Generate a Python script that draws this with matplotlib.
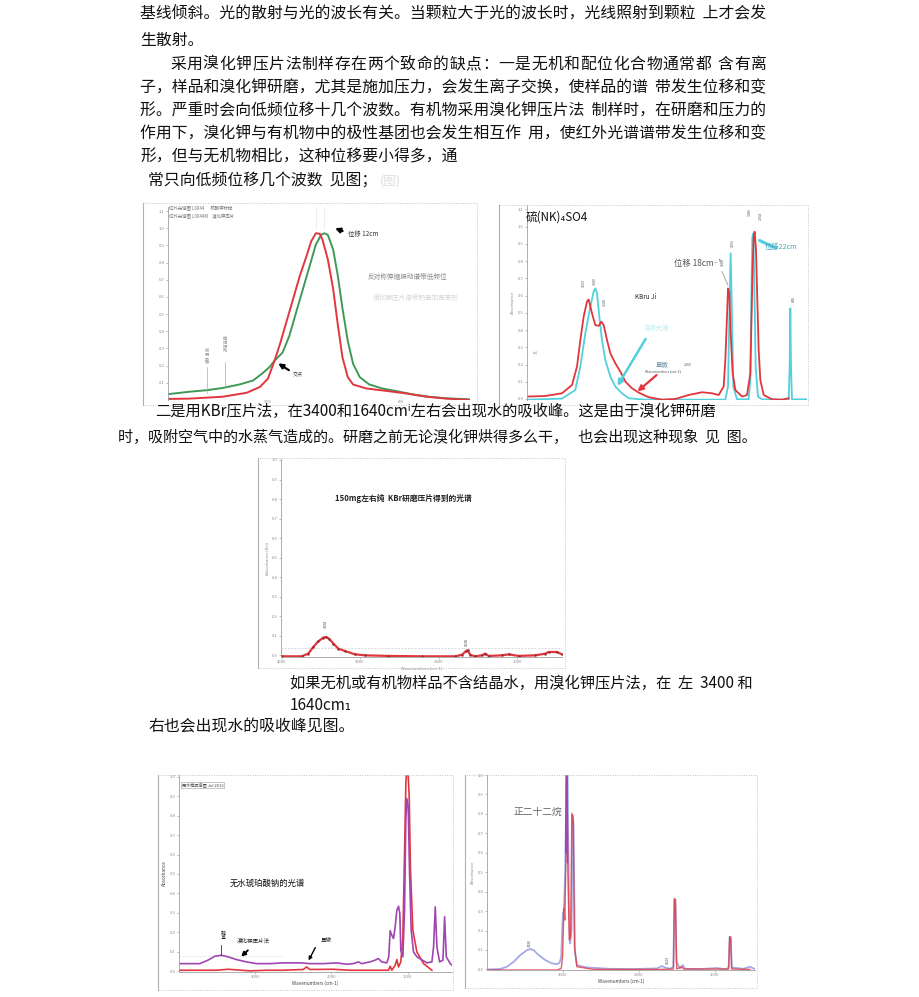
import matplotlib
matplotlib.use("Agg")
import matplotlib.pyplot as plt
from matplotlib.patches import Rectangle
from matplotlib.lines import Line2D

plt.rcParams['font.family'] = ['Noto Sans CJK SC', 'DejaVu Sans']

W, H = 920, 997

# ---- page text ----
para_lines = [
    "基线倾斜。光的散射与光的波长有关。当颗粒大于光的波长时，光线照射到颗粒  上才会发",
    "生散射。",
    "子，样品和溴化钾研磨，尤其是施加压力，会发生离子交换，使样品的谱  带发生位移和变",
    "形。严重时会向低频位移十几个波数。有机物采用溴化钾压片法  制样时，在研磨和压力的",
    "作用下，溴化钾与有机物中的极性基团也会发生相互作  用，使红外光谱谱带发生位移和变",
    "形，但与无机物相比，这种位移要小得多，通",
    "常只向低频位移几个波数  见图；",
    "二是用KBr压片法，在3400和1640cmⁱ左右会出现水的吸收峰。这是由于溴化钾研磨",
    "时，吸附空气中的水蒸气造成的。研磨之前无论溴化钾烘得多么干，   也会出现这种现象  见  图。",
    "如果无机或有机物样品不含结晶水，用溴化钾压片法，在  左  3400 和",
    "1640cm₁",
    "右也会出现水的吸收峰见图。",
]
para_pos = [(140, 14), (140, 40), (140, 88), (140, 111), (140, 134), (140, 157),
            (148, 181), (155, 411), (118, 437), (290, 683), (290, 705), (148, 727)]
para_size = [11.4, 11.4, 11.4, 11.4, 11.4, 11.4, 11.4, 11.0, 10.85, 11.0, 11.0, 11.4]
# justified line (spread between its two margins)
just_line = "采用溴化钾压片法制样存在两个致命的缺点：一是无机和配位化合物通常都含有离"

# ---- chart 1: band shift (red vs green) ----
c1_red_x = [1200, 1168, 1118, 1082, 1062, 1050, 1040, 1032, 1022, 1012, 1002, 992, 985,
            978, 972, 968, 960, 952, 945, 938, 930, 922, 902, 872, 842, 812, 782, 748]
c1_red_y = [0.006, 0.008, 0.019, 0.042, 0.076, 0.124, 0.229, 0.324, 0.457, 0.590, 0.724,
            0.838, 0.924, 0.971, 0.968, 0.933, 0.819, 0.648, 0.438, 0.248, 0.133, 0.090,
            0.067, 0.053, 0.038, 0.019, 0.008, 0.0]
c1_green_x = [1200, 1168, 1142, 1118, 1092, 1072, 1058, 1048, 1040, 1028, 1018, 1008, 998,
              988, 978, 970, 965, 960, 952, 945, 938, 930, 922, 912, 898, 878, 852, 832,
              808, 782, 748]
c1_green_y = [0.034, 0.048, 0.057, 0.070, 0.091, 0.114, 0.156, 0.190, 0.229, 0.276, 0.371,
              0.505, 0.638, 0.771, 0.905, 0.962, 0.971, 0.962, 0.876, 0.724, 0.533, 0.343,
              0.210, 0.133, 0.091, 0.067, 0.048, 0.032, 0.019, 0.010, 0.004]
c1_yticks = [0.1, 0.2, 0.3, 0.4, 0.5, 0.6, 0.7, 0.8, 0.9, 1.0, 1.1]
c1_xticks = [1050, 850]

# ---- chart 2: (NH4)2SO4, red vs cyan ----
c2_red_x = [4000, 3780, 3580, 3460, 3400, 3360, 3320, 3280, 3260, 3220, 3180, 3140, 3108,
            3080, 3040, 3000, 2940, 2880, 2820, 2740, 2660, 2540, 2380, 2220, 2060, 1900,
            1780, 1700, 1640, 1620, 1600, 1588, 1572, 1556, 1532, 1500, 1420, 1360, 1320,
            1308, 1292, 1280, 1268, 1252, 1236, 1220, 1200, 1160, 1060, 940, 860]
c2_red_y = [0.014, 0.017, 0.033, 0.081, 0.188, 0.342, 0.478, 0.565, 0.578, 0.497, 0.429,
            0.424, 0.449, 0.429, 0.342, 0.265, 0.207, 0.159, 0.101, 0.062, 0.037, 0.010,
            -0.004, 0.0, 0.023, 0.039, 0.033, 0.023, 0.072, 0.226, 0.478, 0.642, 0.613,
            0.381, 0.149, 0.052, 0.014, 0.023, 0.149, 0.420, 0.768, 0.942, 0.971, 0.865,
            0.574, 0.284, 0.110, 0.023, -0.002, -0.004, 0.004]
c2_cyan_x = [4000, 3580, 3420, 3360, 3300, 3240, 3200, 3180, 3160, 3132, 3100, 3060, 3000,
             2940, 2860, 2780, 2580, 1620, 1588, 1568, 1556, 1544, 1524, 1480, 1340, 1320,
             1308, 1296, 1284, 1272, 1256, 1228, 1180, 860, 848, 840, 832, 820, 640]
c2_cyan_y = [-0.004, 0.002, 0.052, 0.188, 0.381, 0.536, 0.623, 0.642, 0.613, 0.478, 0.342,
             0.226, 0.130, 0.072, 0.033, 0.004, -0.004, -0.004, 0.072, 0.574, 0.845, 0.574,
             0.072, -0.002, -0.002, 0.110, 0.574, 0.942, 0.961, 0.671, 0.188, 0.014,
             -0.002, -0.004, 0.188, 0.526, 0.188, -0.002, -0.002]
c2_yticks = [0.0, 0.1, 0.2, 0.3, 0.4, 0.5, 0.6, 0.7, 0.8, 0.9, 1.0, 1.1]
c2_peak_x = [3320, 3180, 3060, 1648, 1532, 1328, 1192, 792]
c2_peak_y = [0.65, 0.66, 0.54, 0.77, 0.88, 1.06, 1.04, 0.56]
c2_peak_lab = ["3259", "3180", "3108", "1588", "1556", "1286", "1264", "840"]

# ---- chart 3: pure KBr pellet ----
c3_x = [4000, 3745, 3660, 3596, 3532, 3468, 3434, 3396, 3340, 3277, 3191, 3064, 2936, 2638,
        2213, 1787, 1702, 1651, 1630, 1596, 1532, 1447, 1404, 1362, 1191, 1106, 979, 766,
        638, 596, 489, 426]
c3_y = [-0.005, -0.005, 0.009, 0.043, 0.072, 0.091, 0.094, 0.085, 0.060, 0.034, 0.022,
        0.005, 0.0, -0.003, -0.005, -0.005, 0.003, 0.021, 0.026, 0.003, -0.005, 0.0, 0.009,
        -0.003, 0.0, 0.005, -0.003, 0.0, 0.009, 0.017, 0.017, 0.005]
c3_yticks = [0.0, 0.1, 0.2, 0.3, 0.4, 0.5, 0.6, 0.7, 0.8, 0.9, 1.0]
c3_xticks = [4000, 3000, 2000, 1000]

# ---- chart 4: anhydrous sample, purple vs red ----
c4_pur_x = [3991, 3728, 3618, 3531, 3443, 3355, 3246, 3114, 2982, 2807, 2632, 2412, 2281,
            2105, 1930, 1798, 1711, 1645, 1601, 1491, 1425, 1382, 1338, 1272, 1246, 1228,
            1206, 1184, 1162, 1140, 1118, 1101, 1088, 1061, 1039, 1022, 1009, 991, 974, 952,
            921, 877, 746, 680, 658, 636, 614, 579, 535, 513, 491, 439, 417]
c4_pur_y = [0.039, 0.039, 0.057, 0.077, 0.082, 0.074, 0.060, 0.048, 0.039, 0.039, 0.043,
            0.043, 0.039, 0.039, 0.043, 0.036, 0.039, 0.048, 0.039, 0.048, 0.057, 0.065,
            0.048, 0.043, 0.074, 0.208, 0.185, 0.168, 0.228, 0.314, 0.334, 0.297, 0.108,
            0.074, 0.314, 0.777, 0.888, 0.846, 0.520, 0.211, 0.099, 0.074, 0.043, 0.048,
            0.125, 0.331, 0.125, 0.048, 0.057, 0.280, 0.074, 0.039, 0.031]
c4_red_x = [3991, 3509, 3355, 3070, 2851, 2632, 2368, 2325, 2281, 1974, 1754, 1316, 1250,
            1228, 1206, 1162, 1140, 1118, 1088, 1061, 1039, 1022, 1009, 996, 978, 961, 930,
            877, 789, 680]
c4_red_y = [0.005, 0.005, 0.010, 0.002, 0.005, 0.005, 0.009, 0.022, 0.009, 0.010, 0.005,
            0.005, 0.005, 0.026, 0.005, 0.031, 0.060, 0.022, 0.048, 0.177, 0.605, 0.966,
            1.05, 1.05, 0.897, 0.520, 0.211, 0.099, 0.039, 0.005]
c4_yticks = [0.0, 0.1, 0.2, 0.3, 0.4, 0.5, 0.6, 0.7, 0.8, 0.9, 1.0]
c4_xticks = [3000, 2000, 1000]

# ---- chart 5: n-docosane ----
c5_blue_x = [4000, 3825, 3737, 3649, 3561, 3474, 3430, 3386, 3320, 3232, 3145, 3079, 3044,
             3022, 3000, 2987, 2969, 2952, 2939, 2921, 2904, 2886, 2873, 2860, 2842, 2816,
             2684, 2377, 2070, 1763, 1697, 1654, 1588, 1544, 1531, 1518, 1504, 1456, 1421,
             1390, 1193, 974, 842, 816, 803, 789, 776, 623, 535, 491, 469]
c5_blue_y = [0.0, 0.002, 0.014, 0.039, 0.074, 0.099, 0.105, 0.099, 0.074, 0.048, 0.031,
             0.027, 0.034, 0.065, 0.288, 0.305, 0.511, 1.05, 1.05, 0.340, 0.134, 0.202,
             0.794, 0.751, 0.099, 0.022, 0.010, 0.003, 0.002, 0.005, 0.017, 0.010, 0.003,
             0.014, 0.357, 0.357, 0.039, 0.005, 0.022, 0.003, 0.002, 0.007, 0.0, 0.014,
             0.168, 0.168, 0.010, 0.003, 0.014, 0.005, 0.002]
c5_red_x = [4000, 3079, 3022, 3004, 2987, 2974, 2956, 2947, 2934, 2917, 2899, 2882, 2864,
            2847, 2816, 2596, 1719, 1544, 1531, 1518, 1500, 1434, 1412, 816, 803, 789, 776,
            535]
c5_red_y = [-0.003, -0.003, 0.005, 0.065, 0.314, 0.254, 0.683, 0.99, 0.511, 0.151, 0.168,
            0.803, 0.768, 0.117, 0.014, 0.0, 0.0, 0.002, 0.365, 0.357, 0.002, 0.014, 0.002,
            0.002, 0.168, 0.160, 0.002, 0.0]
c5_pur_x = [2962, 2956, 2952, 2946, 2940]
c5_pur_y = [0.60, 0.95, 1.05, 0.95, 0.55]
c5_yticks = [0.0, 0.1, 0.2, 0.3, 0.4, 0.5, 0.6, 0.7, 0.8, 0.9, 1.0]
c5_xticks = [3000, 2000, 1000]

RED = '#e2363e'
GREEN = '#3f9a57'
CYAN = '#52d0dc'
PURPLE = '#a045b2'
LAV = '#a4aae6'
GRAY = '#8a8a8a'

fig = plt.figure(figsize=(W / 100, H / 100), dpi=100)
fig.patch.set_facecolor('white')


def px_axes(l, t, r, b):
    return fig.add_axes([l / W, 1 - b / H, (r - l) / W, (b - t) / H])


def frame(l, t, r, b):
    fig.patches.append(Rectangle((l / W, 1 - b / H), (r - l) / W, (b - t) / H,
                                 transform=fig.transFigure, fill=False,
                                 ec='#c4c4c4', lw=0.7, ls=(0, (1, 1.5))))
    fig.lines.append(Line2D([l / W, l / W], [1 - b / H, 1 - t / H],
                            transform=fig.transFigure, color='#b0b0b0', lw=0.8))


def style(ax, yticks, xticks, xlim, ylim):
    ax.set_facecolor('none')
    ax.set_xlim(*xlim)
    ax.set_ylim(*ylim)
    for s in ['top', 'right']:
        ax.spines[s].set_visible(False)
    for s in ['left', 'bottom']:
        ax.spines[s].set_color('#a0a0a0')
        ax.spines[s].set_linewidth(0.6)
    ax.set_yticks(yticks)
    ax.set_yticklabels(['%.1f' % v for v in yticks])
    ax.set_xticks(xticks)
    ax.set_xticklabels([str(v) for v in xticks])
    ax.tick_params(labelsize=3, colors=GRAY, length=1.5, width=0.4, pad=1)


# page text
for (x, y), s, fs in zip(para_pos, para_lines, para_size):
    fig.text(x / W, 1 - y / H, s, fontsize=fs, va='center', ha='left', color='#111111')
# justified line: characters spread from x=170 to x=767, small gap before 含有离
pitch = (767 - 170 - 6) / len(just_line)
for i, ch in enumerate(just_line):
    xpos = 170 + i * pitch + (6 if i >= len(just_line) - 3 else 0)
    fig.text(xpos / W, 1 - 64 / H, ch, fontsize=11.4, va='center', ha='left', color='#111111')
fig.text(380 / W, 1 - 181 / H, "(图)", fontsize=9, va='center', color='#dddddd')

# chart 1
frame(143, 203, 477, 405)
ax1 = px_axes(168, 207, 473, 400)
style(ax1, c1_yticks, c1_xticks, (1200, 742), (0, 1.124))
ax1.spines['bottom'].set_visible(False)
ax1.tick_params(axis='x', length=0, pad=0.2, labelsize=2.6)
ax1.plot(c1_green_x, c1_green_y, color=GREEN, lw=1.4)
ax1.plot(c1_red_x, c1_red_y, color=RED, lw=1.4)
ax1.text(1198, 1.112, "红外光谱图 L0044      硫酸钾标样", fontsize=3.2, color='#777', va='center')
ax1.text(1198, 1.068, "红外光谱图 L0044M    溴化钾压片", fontsize=3.2, color='#777', va='center')
for xv in [978, 965]:
    ax1.plot([xv, xv], [1.0, 1.11], color='#bbbbbb', lw=0.5, ls=':')
ax1.annotate('', xy=(953, 1.006), xytext=(934, 0.978),
             arrowprops=dict(arrowstyle='-|>', color='k', lw=1.6, mutation_scale=7))
ax1.text(930, 0.967, "位移 12cm", fontsize=4.6, color='#333', va='center')
ax1.text(900, 0.714, "反对称伸缩振动谱带低频位", fontsize=4.8, color='#888', va='center')
ax1.text(892, 0.594, "溴化钾压片谱带明显加宽变形", fontsize=4.8, color='#d6d6d6', va='center')
ax1.annotate('', xy=(1038, 0.222), xytext=(1015, 0.165),
             arrowprops=dict(arrowstyle='-|>', color='k', lw=1.6, mutation_scale=7))
ax1.text(1012, 0.143, "交点", fontsize=3.6, color='#444', va='center')
ax1.text(1142, 0.25, "微\n弱\n吸\n收", fontsize=3, color='#888', ha='center',
         va='center', linespacing=1.0)
ax1.plot([1142, 1142], [0.04, 0.19], color='#aaaaaa', lw=0.5)
ax1.text(1115, 0.32, "伸\n缩\n振\n动", fontsize=3, color='#888', ha='center',
         va='center', linespacing=1.0)
ax1.plot([1115, 1115], [0.067, 0.22], color='#aaaaaa', lw=0.5)

# chart 2
frame(499, 205, 808, 405)
ax2 = px_axes(527, 205, 807, 400)
style(ax2, c2_yticks, [], (4000, 640), (-0.006, 1.126))
ax2.spines['bottom'].set_visible(False)
ax2.set_ylabel("Absorbance", fontsize=3, color=GRAY, labelpad=2)
ax2.plot(c2_cyan_x, c2_cyan_y, color=CYAN, lw=1.3)
ax2.plot(c2_red_x, c2_red_y, color=RED, lw=1.3)
for xv, yv, lab in zip(c2_peak_x, c2_peak_y, c2_peak_lab):
    ax2.text(xv, yv, lab, fontsize=2.6, rotation=90, color='#555', ha='center', va='bottom')
ax2.text(4020, 1.058, "硫(NK)₄SO4", fontsize=8.4, color='#111', va='center')
ax2.text(2700, 0.594, "KBru Ji", fontsize=4.6, color='#222', va='center')
ax2.text(2240, 0.787, "位移 18cm⁻¹", fontsize=6, color='#555', va='center')
ax2.plot([1660, 1590], [0.739, 0.662], color='#999', lw=0.6)
ax2.annotate('', xy=(1240, 0.927), xytext=(980, 0.868),
             arrowprops=dict(arrowstyle='-', color=CYAN, lw=2.2))
ax2.text(1150, 0.880, "位移22cm", fontsize=5.2, color='#4aa8c0', va='center')
ax2.annotate('', xy=(2932, 0.062), xytext=(2560, 0.362),
             arrowprops=dict(arrowstyle='-|>', color=CYAN, lw=1.8, mutation_scale=8))
ax2.text(2600, 0.41, "溶液光谱", fontsize=4.6, color='#bfeef2', va='center')
ax2.annotate('', xy=(2700, 0.033), xytext=(2420, 0.149),
             arrowprops=dict(arrowstyle='-|>', color=RED, lw=1.6, mutation_scale=8))
ax2.text(2460, 0.197, "显微", fontsize=4.6, color='#6a8aa0', va='center')
ax2.text(2120, 0.197, "2000", fontsize=2.6, color='#555', va='center')
ax2.text(2580, 0.159, "Wavenumbers (cm-1)", fontsize=2.6, color='#555', va='center')
ax2.text(3930, 0.265, "(a)", fontsize=3, color=GRAY, va='center')

# chart 3
frame(258, 458, 565, 668)
ax3 = px_axes(281, 459, 562, 657)
style(ax3, c3_yticks, c3_xticks, (4008, 426), (-0.0085, 1.005))
ax3.set_xlabel("Wavenumbers (cm-1)", fontsize=3, color=GRAY, labelpad=1)
ax3.set_ylabel("Absorbance (Rel)", fontsize=3, color=GRAY, labelpad=2)
ax3.axhline(0.038, color='#cccccc', lw=0.6, ls=(0, (2, 2)))
ax3.plot(c3_x, c3_y, color=RED, lw=1.6)
ax3.plot(c3_x, c3_y, ls='none', marker='.', ms=1.5, color='#9a2a30')
ax3.text(3434, 0.14, "3434", fontsize=2.6, rotation=90, color='#444', ha='center', va='bottom')
ax3.text(1638, 0.05, "1638", fontsize=2.6, rotation=90, color='#444', ha='center', va='bottom')
ax3.text(3319, 0.803, "150mg左右纯  KBr研磨压片得到的光谱", fontsize=5.6, color='#222',
         va='center', fontweight='bold')

# chart 4
frame(158, 775, 453, 990)
ax4 = px_axes(179, 775, 452, 972)
style(ax4, c4_yticks, c4_xticks, (4000, 416), (-0.004, 1.009))
ax4.set_xlabel("Wavenumbers (cm-1)", fontsize=3.4, color='#444', labelpad=1)
ax4.set_ylabel("Absorbance", fontsize=3.4, color='#444', labelpad=2)
ax4.plot([3991, 2632], [0.077, 0.077], color='#cfcfcf', lw=0.6, ls=(0, (1, 2)))
ax4.plot(c4_red_x, c4_red_y, color=RED, lw=1.2)
ax4.plot(c4_pur_x, c4_pur_y, color=PURPLE, lw=1.2)
ax4.text(3965, 0.957, "无水样品谱图 Jul 2012", fontsize=3, color='#444', va='center',
         bbox=dict(boxstyle='square,pad=0.2', fc='white', ec='#999', lw=0.4))
ax4.text(3333, 0.451, "无水琥珀酸钠的光谱", fontsize=6, color='#111', va='center')
ax4.text(3421, 0.185, "羟\n基", fontsize=3.6, color='#222', ha='center', va='center',
         linespacing=0.95)
ax4.plot([3443, 3443], [0.085, 0.135], color='#333', lw=0.6)
ax4.text(3240, 0.156, "溴化钾压片法", fontsize=4, color='#222', va='center')
ax4.annotate('', xy=(3211, 0.065), xytext=(3070, 0.117),
             arrowprops=dict(arrowstyle='-|>', color='k', lw=1.4, mutation_scale=6))
ax4.text(2140, 0.16, "显微", fontsize=4, color='#222', va='center')
ax4.annotate('', xy=(2316, 0.043), xytext=(2193, 0.134),
             arrowprops=dict(arrowstyle='-|>', color='k', lw=1.0, mutation_scale=5))

# chart 5
frame(465, 775, 757, 988)
ax5 = px_axes(487, 775, 755, 970)
style(ax5, c5_yticks, c5_xticks, (4000, 469), (-0.003, 1.0))
ax5.set_xlabel("Wavenumbers (cm-1)", fontsize=3.4, color='#444', labelpad=1)
ax5.set_ylabel("Absorbance", fontsize=3, color=GRAY, labelpad=2)
ax5.plot(c5_blue_x, c5_blue_y, color=LAV, lw=1.3)
ax5.plot(c5_red_x, c5_red_y, color=RED, lw=1.0, alpha=0.8)
ax5.plot(c5_pur_x, c5_pur_y, color=PURPLE, lw=1.2)
ax5.text(3430, 0.115, "3430", fontsize=2.6, rotation=90, color='#444', ha='center', va='bottom')
ax5.text(1623, 0.03, "1623", fontsize=2.6, rotation=90, color='#444', ha='center', va='bottom')
ax5.text(3649, 0.811, "正二十二烷", fontsize=7, color='#666', va='center')

fig.savefig("out.png", dpi=100, facecolor='white')
